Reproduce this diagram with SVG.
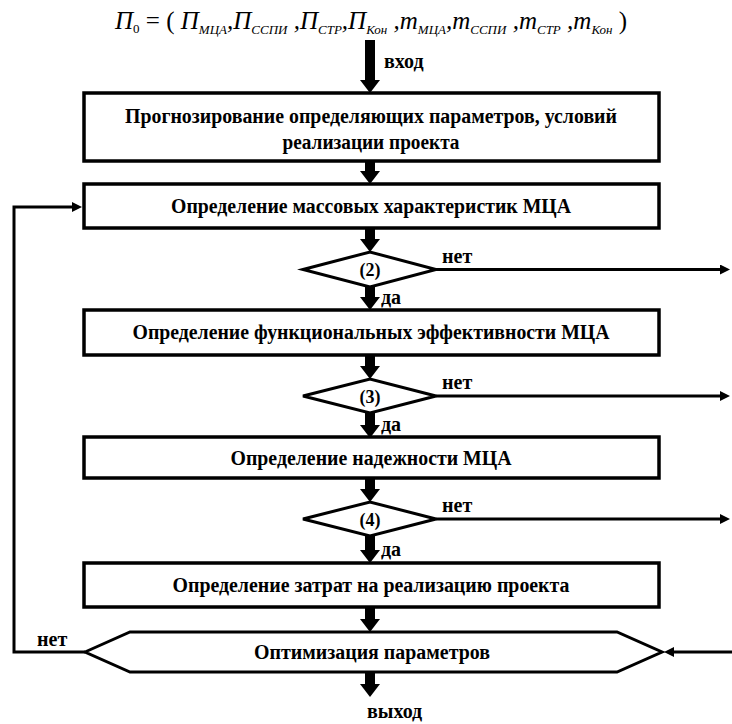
<svg xmlns="http://www.w3.org/2000/svg" width="732" height="724" viewBox="0 0 732 724">
<style>
.box{fill:#fff;stroke:#000;stroke-width:3.5}
.dia{fill:#fff;stroke:#000;stroke-width:3}
.t{font-family:"Liberation Serif","Times New Roman",serif;font-weight:bold;font-size:20px;fill:#000;text-anchor:middle;dominant-baseline:central}
.lbl{font-family:"Liberation Serif","Times New Roman",serif;font-weight:bold;font-size:20px;fill:#000}
.num{font-family:"Liberation Serif","Times New Roman",serif;font-weight:bold;font-size:18px;fill:#000;text-anchor:middle;dominant-baseline:central}
.f{font-family:"Liberation Serif","Times New Roman",serif;font-style:italic;font-size:25px;fill:#000}
.s{font-size:13px}
.fat{stroke:#000;stroke-width:10;fill:none;marker-end:url(#big)}
.thin{stroke:#000;stroke-width:3;fill:none}
.thinA{marker-end:url(#small)}
</style>
<defs>
<marker id="big" viewBox="0 0 13 20" refX="0" refY="10" markerWidth="13" markerHeight="20" markerUnits="userSpaceOnUse" orient="auto"><path d="M0,0 L13,10 L0,20 Z" fill="#000"/></marker>
<marker id="small" viewBox="0 0 10 10" refX="1" refY="5" markerWidth="10" markerHeight="10" markerUnits="userSpaceOnUse" orient="auto"><path d="M0,0 L10,5 L0,10 Z" fill="#000"/></marker>
</defs>
<rect width="732" height="724" fill="#fff"/>

<text class="f" x="115" y="29">П<tspan class="s" font-style="normal" dy="4">0</tspan><tspan dy="-4" font-style="normal"> = ( </tspan>П<tspan class="s" dy="5">МЦА</tspan><tspan dy="-5">,</tspan>П<tspan class="s" dy="5">ССПИ</tspan><tspan dy="-5"> ,</tspan>П<tspan class="s" dy="5">СТР</tspan><tspan dy="-5">,</tspan>П<tspan class="s" dy="5">Кон</tspan><tspan dy="-5"> ,</tspan>m<tspan class="s" dy="5">МЦА</tspan><tspan dy="-5">,</tspan>m<tspan class="s" dy="5">ССПИ</tspan><tspan dy="-5"> ,</tspan>m<tspan class="s" dy="5">СТР</tspan><tspan dy="-5"> ,</tspan>m<tspan class="s" dy="5">Кон</tspan><tspan dy="-5" font-style="normal"> )</tspan></text>
<text class="lbl" x="384" y="68">вход</text>

<g id="connectors">
<line class="fat" x1="370" y1="40" x2="370" y2="80"/>
<line class="fat" x1="370" y1="161" x2="370" y2="171"/>
<line class="fat" x1="370" y1="228" x2="370" y2="239"/>
<line class="fat" x1="370" y1="287" x2="370" y2="297"/>
<line class="fat" x1="370" y1="355" x2="370" y2="366"/>
<line class="fat" x1="370" y1="413" x2="370" y2="425"/>
<line class="fat" x1="370" y1="478" x2="370" y2="489"/>
<line class="fat" x1="370" y1="536" x2="370" y2="550"/>
<line class="fat" x1="370" y1="607" x2="370" y2="619"/>
<line class="fat" x1="370" y1="672" x2="370" y2="684"/>
<line class="thin thinA" x1="436" y1="269.5" x2="721" y2="269.5"/>
<line class="thin thinA" x1="436" y1="396" x2="721" y2="396"/>
<line class="thin thinA" x1="436" y1="519" x2="721" y2="519"/>
<polyline class="thin thinA" points="85,652 14,652 14,207 73,207"/>
<line class="thin thinA" x1="732" y1="652" x2="673" y2="652"/>
<text class="lbl" x="442" y="263">нет</text>
<text class="lbl" x="442" y="389">нет</text>
<text class="lbl" x="442" y="512">нет</text>
<text class="lbl" x="381" y="304">да</text>
<text class="lbl" x="381" y="431">да</text>
<text class="lbl" x="381" y="556">да</text>
<text class="lbl" x="37" y="646">нет</text>
<text class="lbl" x="367" y="718">выход</text>
</g>

<g id="n1"><rect class="box" x="84" y="93" width="575" height="68"/>
<text class="t" x="371" y="116" textLength="492" lengthAdjust="spacingAndGlyphs">Прогнозирование определяющих параметров, условий</text>
<text class="t" x="371" y="142" textLength="177" lengthAdjust="spacingAndGlyphs">реализации проекта</text></g>
<g id="n2"><rect class="box" x="84" y="184" width="575" height="44"/>
<text class="t" x="371" y="206" textLength="400" lengthAdjust="spacingAndGlyphs">Определение массовых характеристик МЦА</text></g>
<g id="d2"><polygon class="dia" points="303,269.5 370,252 436,269.5 370,287"/><text class="num" x="370" y="270">(2)</text></g>
<g id="n3"><rect class="box" x="84" y="310" width="575" height="45"/>
<text class="t" x="371" y="332" textLength="477" lengthAdjust="spacingAndGlyphs">Определение функциональных эффективности МЦА</text></g>
<g id="d3"><polygon class="dia" points="303,396 370,379 436,396 370,413"/><text class="num" x="370" y="397">(3)</text></g>
<g id="n4"><rect class="box" x="84" y="437" width="575" height="41"/>
<text class="t" x="371" y="458" textLength="281" lengthAdjust="spacingAndGlyphs">Определение надежности МЦА</text></g>
<g id="d4"><polygon class="dia" points="303,519 370,502 436,519 370,536"/><text class="num" x="370" y="520">(4)</text></g>
<g id="n5"><rect class="box" x="84" y="563" width="575" height="44"/>
<text class="t" x="371" y="585" textLength="397" lengthAdjust="spacingAndGlyphs">Определение затрат на реализацию проекта</text></g>
<g id="n6"><polygon class="dia" points="85,652 130,632 617,632 662,652 617,672 130,672"/>
<text class="t" x="372" y="652" textLength="236" lengthAdjust="spacingAndGlyphs">Оптимизация параметров</text></g>
</svg>
